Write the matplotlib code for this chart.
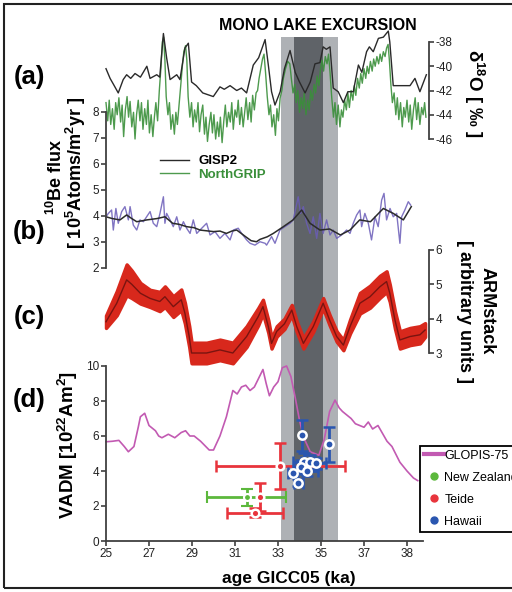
import numpy as np
import matplotlib.pyplot as plt
from matplotlib.patches import Rectangle
from matplotlib.lines import Line2D

plt.rcParams['font.family'] = ['Liberation Sans', 'DejaVu Sans']
plt.rcParams['mathtext.default'] = 'regular'
plt.rcParams['axes.unicode_minus'] = False

W, H = 512, 592

# ---------------- data ----------------
# (a) d18O, GISP2
gisp_age = [25.0, 25.19, 25.35, 25.57, 25.8, 25.96, 26.15, 26.35, 26.6, 26.9, 27.05, 27.36, 27.5, 27.67,
            27.82, 27.98, 28.29, 28.44, 28.67, 28.83, 28.98, 29.2, 29.5, 29.99, 30.3, 30.5, 30.77, 31.08,
            31.3, 31.54, 31.85, 32.1, 32.4, 32.55, 32.7, 32.86, 33.1, 33.3, 33.56, 33.8, 34.0, 34.26, 34.5,
            34.72, 34.95, 35.1, 35.25, 35.42, 35.57, 35.8, 36.04, 36.25, 36.5, 36.74, 36.9, 37.12, 37.25,
            37.43, 37.67, 37.9, 38.13, 38.2, 38.36, 39.14, 39.37, 39.6, 39.9]
gisp_d18o = [-40.2, -41.0, -41.5, -42.2, -41.1, -40.7, -41.0, -40.6, -40.9, -40.0, -41.0, -40.7, -40.9, -37.3,
             -39.3, -41.1, -40.7, -41.1, -38.5, -38.1, -41.3, -41.6, -42.2, -42.5, -41.7, -41.9, -41.6, -42.0,
             -41.8, -42.2, -39.9, -39.3, -37.8, -39.9, -42.1, -43.2, -42.1, -40.2, -38.7, -40.5, -41.3, -42.2,
             -41.3, -39.8, -39.7, -38.4, -38.6, -38.4, -41.8, -42.1, -43.0, -42.1, -42.1, -39.9, -40.5, -38.8,
             -38.4, -38.8, -37.7, -37.6, -37.1, -38.0, -41.6, -41.6, -41.0, -42.1, -40.7]

# (a) d18O, NorthGRIP
ngrip_age = [25.00, 25.08, 25.15, 25.22, 25.30, 25.38, 25.45, 25.52, 25.60, 25.68, 25.75, 25.82, 25.90, 25.98,
             26.05, 26.12, 26.20, 26.28, 26.35, 26.42, 26.50, 26.58, 26.65, 26.72, 26.80, 26.88, 26.95, 27.02,
             27.10, 27.18, 27.25, 27.32, 27.40, 27.48, 27.56, 27.62, 27.68, 27.74, 27.80, 27.88, 27.95, 28.02,
             28.10, 28.18, 28.25, 28.32, 28.40, 28.48, 28.55, 28.62, 28.70, 28.76, 28.82, 28.90, 28.98, 29.05,
             29.12, 29.20, 29.28, 29.35, 29.42, 29.50, 29.58, 29.65, 29.72, 29.80, 29.88, 29.95, 30.02, 30.10,
             30.18, 30.25, 30.32, 30.40, 30.48, 30.55, 30.62, 30.70, 30.78, 30.85, 30.92, 31.00, 31.08, 31.15,
             31.22, 31.30, 31.38, 31.45, 31.52, 31.60, 31.68, 31.75, 31.82, 31.90, 31.98, 32.05, 32.12, 32.20,
             32.28, 32.35, 32.42, 32.50, 32.58, 32.65, 32.72, 32.80, 32.88, 32.95, 33.02, 33.10, 33.18, 33.25,
             33.35, 33.45, 33.55, 33.62, 33.70, 33.78, 33.85, 33.92, 34.00, 34.08, 34.15, 34.22, 34.30, 34.38,
             34.45, 34.52, 34.60, 34.68, 34.75, 34.82, 34.90, 34.98, 35.05, 35.12, 35.20, 35.28, 35.35, 35.42,
             35.50, 35.58, 35.65, 35.72, 35.80, 35.88, 35.95, 36.02, 36.10, 36.18, 36.25, 36.32, 36.40, 36.48,
             36.55, 36.62, 36.70, 36.78, 36.85, 36.92, 37.00, 37.08, 37.15, 37.22, 37.30, 37.38, 37.45, 37.52,
             37.60, 37.68, 37.75, 37.82, 37.90, 37.98, 38.05, 38.12, 38.18, 38.25, 38.32, 38.40, 38.48, 38.55,
             38.62, 38.70, 38.78, 38.85, 38.92, 39.00, 39.08, 39.15, 39.22, 39.30, 39.38, 39.45, 39.52, 39.60,
             39.68, 39.75, 39.82, 39.88]
ngrip_d18o = [-43.0, -44.5, -42.8, -44.8, -43.5, -45.2, -43.0, -44.0, -42.6, -44.6, -43.2, -45.8, -43.6, -42.5,
              -44.2, -42.9, -45.0, -43.8, -46.0, -44.0, -42.8, -44.5, -43.0, -45.2, -43.5, -44.8, -42.8, -45.5,
              -44.0, -45.8, -44.2, -43.0, -44.5, -42.0, -40.0, -38.0, -37.6, -39.5, -42.5, -44.0, -43.0, -45.2,
              -44.0, -45.6, -43.8, -44.8, -43.2, -41.5, -40.0, -38.8, -38.3, -39.5, -42.5, -44.2, -43.0, -45.0,
              -43.6, -44.6, -43.0, -45.4, -44.0, -43.2, -45.6, -44.2, -46.2, -44.8, -43.8, -45.5, -44.0, -46.0,
              -44.6, -45.8, -44.2, -46.3, -44.5, -43.2, -45.0, -43.8, -44.6, -43.0, -45.2, -43.6, -44.2, -42.8,
              -44.8, -43.4, -45.0, -43.8, -42.6, -44.4, -43.0, -44.6, -42.4, -43.6, -42.2, -42.0, -41.0, -40.2,
              -39.4, -39.0, -40.5, -42.5, -44.0, -43.2, -45.0, -44.0, -45.7, -43.5, -44.5, -42.6, -42.0, -41.0,
              -40.2, -39.6, -39.8, -41.0, -42.2, -41.5, -43.0, -42.0, -43.8, -42.6, -43.5, -42.2, -44.0, -42.8,
              -43.6, -42.0, -42.8, -41.5, -42.2, -40.8, -41.6, -40.2, -39.5, -40.4, -39.2, -39.8, -39.0, -40.5,
              -42.6, -44.2, -43.0, -44.8, -43.2, -45.0, -43.6, -44.2, -42.8, -43.6, -42.2, -43.4, -42.0, -42.8,
              -41.6, -42.4, -41.0, -41.8, -40.6, -41.4, -40.2, -41.0, -40.0, -40.6, -39.6, -40.4, -39.4, -40.0,
              -39.2, -39.8, -39.0, -39.6, -38.8, -39.2, -38.5, -38.2, -39.5, -41.5, -43.0, -42.2, -44.0, -42.6,
              -44.4, -43.0, -45.0, -43.4, -44.2, -42.8, -44.6, -43.2, -45.2, -43.6, -42.6, -44.4, -43.0, -44.8,
              -43.4, -44.0, -43.0, -44.2]

# (b) 10Be flux
be_age = [25.0, 25.11, 25.26, 25.34, 25.46, 25.57, 25.73, 25.88, 26.04, 26.12, 26.27, 26.43, 26.58, 26.74,
          26.89, 27.05, 27.2, 27.36, 27.51, 27.67, 27.74, 27.82, 27.98, 28.13, 28.29, 28.44, 28.6, 28.75,
          28.91, 29.06, 29.22, 29.37, 29.68, 29.84, 30.07, 30.3, 30.53, 30.77, 30.92, 31.15, 31.31, 31.54,
          31.7, 31.93, 32.16, 32.4, 32.47, 32.7, 32.86, 33.09, 33.32, 33.56, 33.71, 33.94, 34.05, 34.18,
          34.33, 34.49, 34.64, 34.8, 34.95, 35.1, 35.26, 35.42, 35.57, 35.73, 35.96, 36.19, 36.35, 36.5,
          36.66, 36.81, 36.89, 37.04, 37.2, 37.35, 37.51, 37.66, 37.82, 37.93, 38.05, 38.21, 38.36, 38.52,
          38.67, 38.75, 38.9, 39.06, 39.17]
be_flux = [3.97, 4.1, 4.23, 3.46, 4.29, 3.72, 4.17, 4.36, 3.85, 4.36, 3.65, 3.46, 3.85, 3.78,
           3.97, 4.17, 3.72, 3.59, 4.1, 4.74, 3.72, 4.1, 3.85, 3.59, 3.97, 3.46, 3.78, 3.53,
           3.33, 3.85, 3.33, 3.46, 3.72, 3.27, 3.4, 3.14, 3.33, 3.08, 3.46, 3.53, 3.33, 3.08,
           2.95, 2.88, 3.01, 2.95, 2.88, 3.21, 2.95, 3.46, 3.59, 3.72, 3.85, 4.74, 4.1, 4.36,
           3.72, 3.33, 3.97, 3.14, 4.1, 3.33, 3.85, 3.27, 3.46, 3.14, 3.27, 3.46, 3.33, 3.72,
           4.04, 4.23, 3.59, 4.1, 3.72, 3.08, 3.97, 3.59, 4.61, 4.87, 3.85, 4.29, 3.97, 4.1,
           2.95, 3.97, 4.23, 4.55, 4.42]
be_smooth_age = [25.0, 25.3, 25.65, 25.96, 26.2, 26.43, 26.9, 27.36, 27.74, 28.1, 28.4, 28.75, 29.1, 29.37,
                 30.0, 30.3, 30.6, 30.85, 31.08, 31.5, 31.75, 32.0, 32.16, 32.5, 32.78, 33.25, 33.7, 34.1,
                 34.49, 34.95, 35.4, 35.9, 36.35, 36.8, 37.3, 37.9, 38.36, 38.83, 39.2]
be_smooth = [3.97, 3.9, 3.85, 4.04, 3.9, 3.78, 3.85, 3.9, 3.97, 3.72, 3.68, 3.59, 3.55, 3.46,
             3.4, 3.42, 3.33, 3.42, 3.46, 3.2, 3.05, 3.01, 3.1, 3.2, 3.33, 3.59, 3.85, 4.23,
             3.72, 3.46, 3.5, 3.27, 3.46, 3.85, 3.78, 4.29, 4.1, 3.85, 4.36]

# (c) ARMstack
arm_age = [25.0, 25.5, 25.96, 26.2, 26.6, 27.05, 27.5, 27.74, 28.13, 28.5, 28.67, 28.87, 28.98, 29.68,
           30.3, 30.9, 31.54, 32.08, 32.3, 32.55, 32.7, 32.94, 33.3, 33.64, 33.87, 34.18, 34.64, 35.1,
           35.4, 35.73, 36.04, 36.35, 36.81, 37.28, 37.74, 38.05, 38.2, 38.44, 38.67, 39.14, 39.6, 39.84]
arm = [3.91, 4.45, 5.13, 5.0, 4.74, 4.59, 4.5, 4.64, 4.35, 4.55, 4.16, 3.48, 3.0, 3.0,
       3.09, 3.0, 3.48, 4.06, 4.35, 3.77, 3.28, 3.63, 3.85, 4.25, 3.77, 3.28, 3.77, 4.45,
       3.96, 3.48, 3.23, 3.77, 4.45, 4.64, 4.93, 5.08, 4.74, 3.96, 3.38, 3.48, 3.53, 3.67]
arm_err = [0.18, 0.35, 0.45, 0.4, 0.3, 0.25, 0.28, 0.3, 0.3, 0.3, 0.3, 0.3, 0.3, 0.3,
           0.3, 0.3, 0.3, 0.25, 0.2, 0.18, 0.15, 0.15, 0.15, 0.15, 0.15, 0.15, 0.15, 0.15,
           0.15, 0.15, 0.15, 0.2, 0.3, 0.32, 0.32, 0.3, 0.25, 0.25, 0.25, 0.25, 0.25, 0.2]

# (d) VADM
glopis_age = [25.0, 25.3, 25.6, 25.85, 26.04, 26.3, 26.5, 26.6, 26.8, 27.0, 27.3, 27.45, 27.6, 27.9, 28.2,
              28.5, 28.7, 28.9, 29.1, 29.4, 29.8, 30.0, 30.3, 30.6, 30.9, 31.1, 31.3, 31.5, 31.7, 31.9,
              32.1, 32.3, 32.45, 32.6, 32.8, 33.0, 33.2, 33.4, 33.6, 33.8, 34.0, 34.2, 34.5, 34.9, 35.15,
              35.4, 35.65, 35.85, 36.0, 36.2, 36.4, 36.6, 36.8, 37.0, 37.2, 37.4, 37.65, 38.07, 38.3,
              38.67, 39.0, 39.3, 39.5]
glopis_vadm = [5.67, 5.7, 5.75, 5.4, 5.1, 5.4, 6.5, 7.1, 7.3, 6.6, 6.3, 6.0, 5.9, 6.1, 5.9,
               6.2, 6.3, 6.0, 6.0, 5.7, 5.2, 5.2, 6.0, 7.1, 8.6, 8.4, 8.8, 8.9, 8.6, 8.8,
               9.3, 9.8, 9.0, 8.3, 8.8, 9.1, 9.9, 10.0, 9.4, 8.2, 6.9, 5.9, 5.1, 4.9, 5.8,
               7.4, 8.05, 7.6, 7.4, 7.2, 7.0, 6.7, 6.6, 6.5, 6.8, 6.4, 6.6, 5.7, 5.4,
               4.5, 4.0, 3.6, 3.45]

nz_age = [31.55]
nz_vadm = [2.5]
nz_xerr = [1.83]
nz_yerr = [0.5]

teide_age = [33.1, 32.15, 31.95]
teide_vadm = [4.3, 2.5, 1.62]
teide_xerr = [3.0, 0.0, 1.3]
teide_yerr = [1.3, 0.8, 0.27]

hawaii_age = [34.13, 35.35, 34.22, 34.49, 34.75, 34.05, 34.36, 33.68, 33.94]
hawaii_vadm = [6.04, 5.52, 4.53, 4.53, 4.44, 4.21, 4.02, 3.87, 3.33]
hawaii_xerr = [0.0, 0.0, 0.5, 0.4, 0.5, 0.3, 0.5, 0.2, 0.2]
hawaii_yerr = [0.9, 1.0, 0.5, 0.4, 0.3, 0.4, 0.3, 0.2, 0.2]

mono_outer = (33.12, 35.8)
mono_inner = (33.75, 35.1)
x_range = (25, 40)
x_ticks = [25, 27, 29, 31, 33, 35, 37, 39]
x_ticklabels = ['25', '27', '29', '31', '33', '35', '37', '38']

# ---------------- figure ----------------
green = '#3a8f3a'
purple = '#6a5cb8'
red_band = '#d8281c'
magenta = '#c25ab2'
red = '#e8343c'
nz_green = '#5cb83c'
blue = '#2a56b0'
spine_c = '#404040'

fig = plt.figure(figsize=(W / 100, H / 100), dpi=100)


def px_axes(top, bottom, left=106, right=428.5):
    ax = fig.add_axes([left / W, 1 - bottom / H, (right - left) / W, (bottom - top) / H])
    ax.set_xlim(x_range)
    ax.set_facecolor('none')
    for s in ax.spines.values():
        s.set_visible(False)
    ax.set_xticks([])
    ax.set_yticks([])
    return ax


def style_spine(ax, side):
    ax.spines[side].set_visible(True)
    ax.spines[side].set_color(spine_c)
    ax.spines[side].set_linewidth(1.3)
    ax.tick_params(colors=spine_c, labelcolor='#222', labelsize=8.5, width=1.2, length=3.5, pad=1.5)


# bands
ax_bg = px_axes(37, 541)
ax_bg.set_ylim(0, 1)
ax_bg.axvspan(*mono_outer, color='#aeb1b5', lw=0)
ax_bg.axvspan(*mono_inner, color='#5f6368', lw=0)
ax_bg.set_zorder(0)

# (a)
ax_a = px_axes(42, 139)
ax_a.set_zorder(3)
ax_a.set_ylim(-46, -38)
ax_a.plot(ngrip_age, ngrip_d18o, color=green, lw=1.0, alpha=0.9, clip_on=False, label='NorthGRIP')
ax_a.plot(gisp_age, gisp_d18o, color='#2a2a2a', lw=1.0, clip_on=False, label='GISP2')
style_spine(ax_a, 'right')
ax_a.yaxis.tick_right()
ax_a.set_yticks([-46, -44, -42, -40, -38])
ax_a.set_yticklabels(['-46', '-44', '-42', '-40', '-38'])
h, l = ax_a.get_legend_handles_labels()
ax_a.legend(h[::-1], l[::-1], loc='upper left', bbox_to_anchor=(160 / W, 1 - 155 / H),
            bbox_transform=fig.transFigure, frameon=False, handlelength=2.2, handletextpad=0.7,
            labelspacing=0.1, borderpad=0, borderaxespad=0,
            prop={'weight': 'bold', 'size': 9.5}, labelcolor=['black', green])

# (b)
ax_b = px_axes(112, 268)
ax_b.set_zorder(3)
ax_b.set_ylim(2, 8)
ax_b.plot(be_age, be_flux, color=purple, lw=1.0, alpha=0.85, clip_on=False)
ax_b.plot(be_smooth_age, be_smooth, color='#2b2b2b', lw=1.1, clip_on=False)
style_spine(ax_b, 'left')
ax_b.set_yticks([2, 3, 4, 5, 6, 7, 8])

# (c)
ax_c = px_axes(250, 353)
ax_c.set_zorder(3)
ax_c.set_ylim(3, 6)
lo = [a - e for a, e in zip(arm, arm_err)]
hi = [a + e for a, e in zip(arm, arm_err)]
ax_c.fill_between(arm_age, lo, hi, color=red_band, lw=2.5, edgecolor=red_band, clip_on=False)
ax_c.plot(arm_age, arm, color='#7a1410', lw=1.0, clip_on=False)
style_spine(ax_c, 'right')
ax_c.yaxis.tick_right()
ax_c.set_yticks([3, 4, 5, 6])

# (d)
ax_d = px_axes(366, 541)
ax_d.set_zorder(3)
ax_d.set_ylim(0, 10)
ax_d.plot(glopis_age, glopis_vadm, color=magenta, lw=1.2, clip_on=False)
ax_d.errorbar(teide_age, teide_vadm, xerr=teide_xerr, yerr=teide_yerr, fmt='o', color=red,
              ms=5.5, mfc=red, mec='white', mew=1.8, elinewidth=2.0, capsize=4.5, capthick=2.0, clip_on=False)
ax_d.errorbar(nz_age, nz_vadm, xerr=nz_xerr, yerr=nz_yerr, fmt='o', color=nz_green,
              ms=5, mfc=nz_green, mec='white', mew=1.5, elinewidth=2.0, capsize=4.0, capthick=2.0, clip_on=False)
ax_d.errorbar(hawaii_age, hawaii_vadm, xerr=hawaii_xerr, yerr=hawaii_yerr, fmt='o', color=blue,
              ms=6, mfc=blue, mec='white', mew=1.8, elinewidth=2.0, capsize=4.5, capthick=2.0, clip_on=False)
style_spine(ax_d, 'left')
style_spine(ax_d, 'bottom')
ax_d.spines['bottom'].set_bounds(25, 39.75)
ax_d.set_yticks([0, 2, 4, 6, 8, 10])
ax_d.set_xticks(x_ticks)
ax_d.set_xticklabels(x_ticklabels)

leg_handles = [Line2D([], [], color=magenta, lw=3),
               Line2D([], [], color=nz_green, marker='o', ls='none', ms=5),
               Line2D([], [], color=red, marker='o', ls='none', ms=5),
               Line2D([], [], color=blue, marker='o', ls='none', ms=5)]
leg = fig.legend(leg_handles, ['GLOPIS-75', 'New Zealand', 'Teide', 'Hawaii'], loc='upper left',
                 bbox_to_anchor=(420 / W, 1 - 446 / H), bbox_transform=fig.transFigure,
                 fancybox=False, edgecolor='black', framealpha=1, fontsize=9,
                 handlelength=1.6, handletextpad=0.05, labelspacing=0.8, borderpad=0.3,
                 borderaxespad=0)
leg.get_frame().set_linewidth(1.3)
leg._legend_box.sep = 0
for vp in leg._legend_box.get_children():
    vp.pad = 0

# ---------------- text ----------------
def ftext(x, y, s, **kw):
    fig.text(x / W, 1 - y / H, s, ha='center', va='center', **kw)


ftext(318, 25, 'MONO LAKE EXCURSION', fontsize=11.5, weight='bold')
for lab, yy in [('(a)', 77), ('(b)', 232), ('(c)', 317), ('(d)', 400)]:
    ftext(29, yy, lab, fontsize=18.5, weight='bold')

ftext(56, 177, '$^{10}$Be flux', fontsize=13, weight='bold', rotation=90)
ftext(76, 173, '[ 10$^{5}$Atoms/m$^{2}$yr ]', fontsize=13, weight='bold', rotation=90)
ftext(474, 93, '\u03b4$^{18}$O [ \u2030 ]', fontsize=13.5, weight='bold', rotation=-90)
ftext(487, 311, 'ARMstack', fontsize=13, weight='bold', rotation=-90)
ftext(464, 312, '[ arbitrary units ]', fontsize=13, weight='bold', rotation=-90)
ftext(68, 445, 'VADM [10$^{22}$Am$^{2}$]', fontsize=13.5, weight='bold', rotation=90)
ftext(289, 578, 'age GICC05 (ka)', fontsize=12.5, weight='bold')

fig.patches.append(Rectangle((4 / W, 4 / H), 530 / W, 584 / H, transform=fig.transFigure,
                             fill=False, lw=1.5, ec='#222222'))

fig.savefig('out.png', dpi=100)
